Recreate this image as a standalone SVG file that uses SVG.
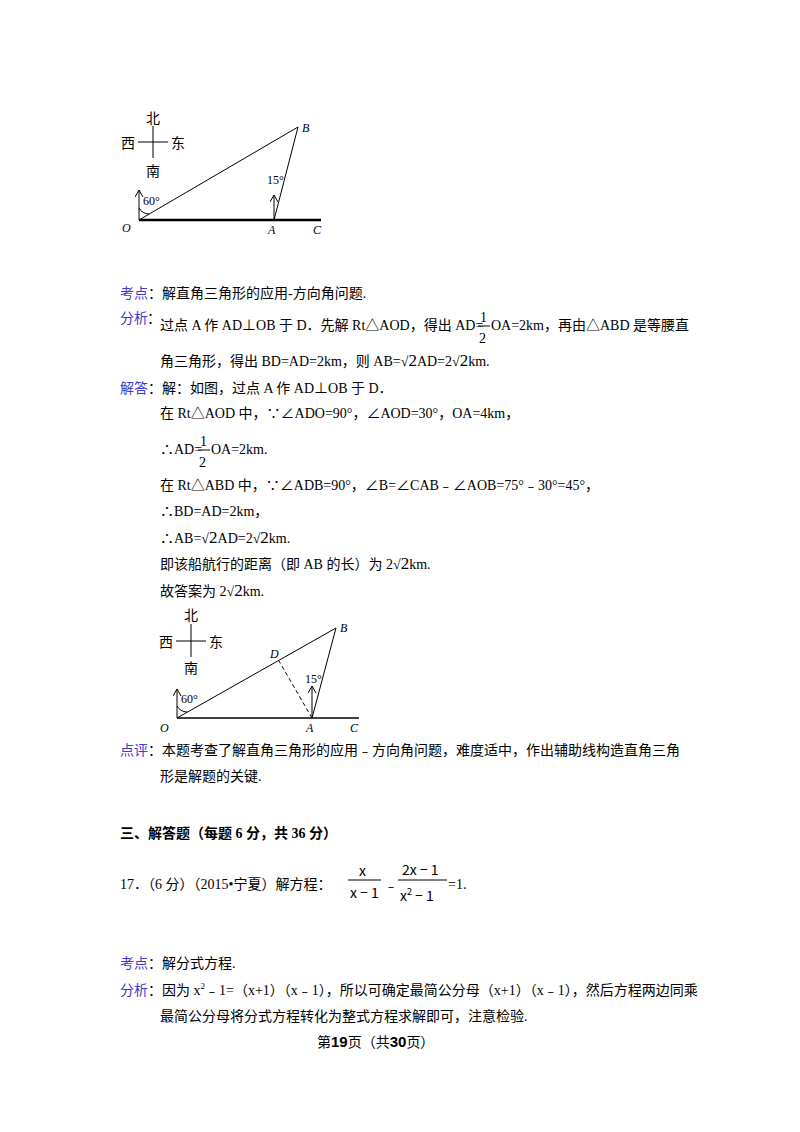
<svg xmlns="http://www.w3.org/2000/svg" width="800" height="1132" viewBox="0 0 800 1132">
<style>
text{font-family:"Liberation Serif","Noto Sans CJK SC",serif;font-size:14px;fill:#000}
.b{fill:#3b3bd0}
.f{font-family:"Noto Sans CJK SC",sans-serif;font-size:14px}
.i{font-style:italic;font-size:12px}
.s{font-size:12px}
line,path,polyline{stroke:#000;fill:none}
</style>
<defs><marker id="ar" markerWidth="10" markerHeight="10" refX="7" refY="4" orient="auto" markerUnits="userSpaceOnUse"><path d="M0,0 L7,4 L0,8" stroke="#000" fill="none"/></marker></defs>
<rect width="800" height="1132" fill="#fff"/>
<g id="fig1">
<line x1="153" y1="126" x2="153" y2="158"/><line x1="138" y1="142" x2="168" y2="142"/>
<text class="f" x="146" y="123" font-size="13">北</text><text class="f" x="121" y="148" font-size="13">西</text><text class="f" x="171" y="148" font-size="13">东</text><text class="f" x="146" y="176" font-size="13">南</text>
<line x1="139" y1="220" x2="321" y2="220" stroke-width="2.5"/>
<line x1="139" y1="220" x2="298" y2="127"/><line x1="274" y1="220" x2="298" y2="127"/>
<line x1="139" y1="220" x2="139" y2="190" marker-end="url(#ar)"/>
<line x1="274" y1="220" x2="274" y2="195" marker-end="url(#ar)"/>
<path d="M139,208 A12,12 0 0 0 149,214"/>
<text class="s" x="143" y="205">60°</text><text class="s" x="267" y="184">15°</text>
<text class="i" x="122" y="232">O</text><text class="i" x="268" y="234">A</text><text class="i" x="313" y="234">C</text><text class="i" x="302" y="132">B</text>
</g>
<g id="text1">
<text x="120" y="298"><tspan class="b">考点</tspan>：解直角三角形的应用-方向角问题.</text>
<text class="b" x="120" y="323">分析</text><text x="147" y="323">：</text>
<text x="160" y="330">过点 A 作 AD⊥OB 于 D．先解 Rt△AOD，得出 AD=</text>
<text x="480" y="322" font-size="16">1</text><line x1="478" y1="326" x2="490" y2="326"/><text x="479" y="343" font-size="16">2</text>
<text x="491" y="330">OA=2km，再由△ABD 是等腰直</text>
<text x="160" y="366">角三角形，得出 BD=AD=2km，则 AB=√<tspan font-size="17">2</tspan>AD=2√<tspan font-size="17">2</tspan>km.</text>
<text x="120" y="393"><tspan class="b">解答</tspan>：解：如图，过点 A 作 AD⊥OB 于 D．</text>
<text x="160" y="418">在 Rt△AOD 中，∵∠ADO=90°，∠AOD=30°，OA=4km，</text>
<text x="160" y="454">∴AD=</text><text x="200" y="446" font-size="16">1</text><line x1="198" y1="450" x2="210" y2="450"/><text x="199" y="467" font-size="16">2</text><text x="211" y="454">OA=2km.</text>
<text x="160" y="490">在 Rt△ABD 中，∵∠ADB=90°，∠B=∠CAB﹣∠AOB=75°﹣30°=45°，</text>
<text x="160" y="516">∴BD=AD=2km，</text>
<text x="160" y="543">∴AB=√<tspan font-size="17">2</tspan>AD=2√<tspan font-size="17">2</tspan>km.</text>
<text x="160" y="569">即该船航行的距离（即 AB 的长）为 2√<tspan font-size="17">2</tspan>km.</text>
<text x="160" y="596">故答案为 2√<tspan font-size="17">2</tspan>km.</text>
</g>
<g id="fig2">
<line x1="191" y1="624" x2="191" y2="657"/><line x1="176" y1="641" x2="206" y2="641"/>
<text class="f" x="184" y="620" font-size="13">北</text><text class="f" x="159" y="647" font-size="13">西</text><text class="f" x="209" y="647" font-size="13">东</text><text class="f" x="184" y="673" font-size="13">南</text>
<line x1="177" y1="718" x2="359" y2="718" stroke-width="1.5"/>
<line x1="177" y1="718" x2="336" y2="628"/><line x1="312" y1="718" x2="336" y2="628"/>
<line x1="312" y1="718" x2="279" y2="661" stroke-dasharray="4,3"/>
<line x1="177" y1="718" x2="177" y2="689" marker-end="url(#ar)"/>
<line x1="312" y1="718" x2="312" y2="686" marker-end="url(#ar)"/>
<path d="M177,706 A12,12 0 0 0 187,712"/>
<text class="s" x="181" y="703">60°</text><text class="s" x="305" y="683">15°</text>
<text class="i" x="160" y="732">O</text><text class="i" x="306" y="732">A</text><text class="i" x="350" y="732">C</text><text class="i" x="340" y="632">B</text><text class="i" x="270" y="658">D</text>
</g>
<g id="text2">
<text x="120" y="755"><tspan class="b">点评</tspan>：本题考查了解直角三角形的应用﹣方向角问题，难度适中，作出辅助线构造直角三角</text>
<text x="160" y="781">形是解题的关键.</text>
<text x="120" y="838" font-weight="bold">三、解答题（每题 6 分，共 36 分）</text>
<text x="120" y="889">17．（6 分）（2015•宁夏）解方程：</text>
<text class="f" x="359" y="876" font-size="13">x</text><line x1="348" y1="880" x2="381" y2="880"/><text class="f" x="350" y="898" font-size="13">x − 1</text>
<text x="384" y="890">﹣</text>
<text class="f" x="402" y="875" font-size="13">2x − 1</text><line x1="398" y1="880" x2="447" y2="880"/><text class="f" x="400" y="901" font-size="13">x<tspan font-size="9" dy="-6">2</tspan><tspan dy="6"> − 1</tspan></text>
<text x="448" y="889">=1.</text>
<text x="120" y="968"><tspan class="b">考点</tspan>：解分式方程.</text>
<text x="120" y="995"><tspan class="b">分析</tspan>：因为 x<tspan font-size="9" dy="-6">2</tspan><tspan dy="6">﹣1=（x+1）（x﹣1），所以可确定最简公分母（x+1）（x﹣1），然后方程两边同乘</tspan></text>
<text x="160" y="1021">最简公分母将分式方程转化为整式方程求解即可，注意检验.</text>
<text x="317" y="1047">第<tspan font-weight="bold" font-family="Liberation Sans" font-size="15">19</tspan>页（共<tspan font-weight="bold" font-family="Liberation Sans" font-size="15">30</tspan>页）</text>
</g>
</svg>
